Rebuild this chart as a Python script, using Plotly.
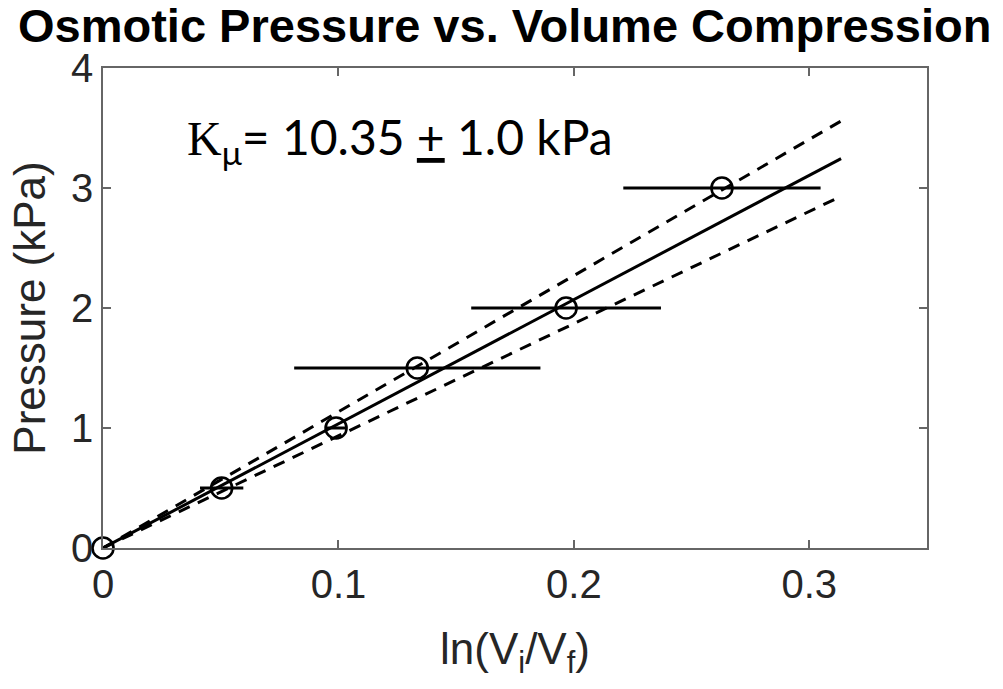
import plotly.graph_objects as go

# Data
ln_ratio = [0.0, 0.0504, 0.0990, 0.1335, 0.1967, 0.2629]
pressure = [0.0, 0.5, 1.0, 1.5, 2.0, 3.0]
ln_err = [0.0, 0.0092, 0.0045, 0.0523, 0.0403, 0.0419]

fit_x = [0.0, 0.3135]
fit_y = [0.0, 3.245]
upper_y = [0.0, 3.558]
lower_y = [0.0, 2.931]

x_ticks = [0, 0.1, 0.2, 0.3]
x_tick_text = ["0", "0.1", "0.2", "0.3"]
y_ticks = [0, 1, 2, 3, 4]
y_tick_text = ["0", "1", "2", "3", "4"]

title_text = "Osmotic Pressure vs. Volume Compression"
x_label = "ln(V<sub>i</sub>/V<sub>f</sub>)"
y_label = "Pressure (kPa)"

fig = go.Figure()

dash = "12px,9px"
fig.add_trace(go.Scatter(x=fit_x, y=upper_y, mode="lines",
                         line=dict(color="black", width=3, dash=dash), showlegend=False))
fig.add_trace(go.Scatter(x=fit_x, y=lower_y, mode="lines",
                         line=dict(color="black", width=3, dash=dash), showlegend=False))
fig.add_trace(go.Scatter(x=fit_x, y=fit_y, mode="lines",
                         line=dict(color="black", width=3), showlegend=False))
fig.add_trace(go.Scatter(
    x=ln_ratio, y=pressure, mode="markers", cliponaxis=False,
    marker=dict(symbol="circle-open", size=21, color="black", line=dict(width=2.6, color="black")),
    error_x=dict(type="data", array=ln_err, visible=True, color="black", thickness=3, width=0),
    showlegend=False))

axis_common = dict(
    showgrid=False, zeroline=False, showline=True, linecolor="#666666", linewidth=1.5,
    mirror="ticks", ticks="inside", ticklen=8, tickwidth=1.5, tickcolor="#666666",
    tickfont=dict(family="Liberation Sans, Arial", size=40, color="#262626"),
)

fig.update_layout(
    width=1003, height=689,
    margin=dict(l=103, r=76, t=68, b=141),
    plot_bgcolor="white", paper_bgcolor="white",
    xaxis=dict(range=[0, 0.35], tickvals=x_ticks, ticktext=x_tick_text,
               title=dict(text=x_label, font=dict(family="Liberation Sans, Arial", size=44, color="#262626"),
                          standoff=28),
               **axis_common),
    yaxis=dict(range=[0, 4], tickvals=y_ticks, ticktext=y_tick_text,
               title=dict(text=y_label, font=dict(family="Liberation Sans, Arial", size=44, color="#262626"),
                          standoff=12),
               **axis_common),
    annotations=[
        dict(text="<b>" + title_text + "</b>", xref="paper", yref="paper", x=0.487, y=1.0,
             xanchor="center", yanchor="bottom", yshift=14, showarrow=False,
             font=dict(family="Liberation Sans, Arial", size=47, color="black")),
        dict(text="<span style='font-family:Liberation Serif'>K</span><sub>μ</sub>= 10.35 <u>+</u> 1.0 kPa",
             xref="x", yref="y", x=0.035, y=3.4, xanchor="left", yanchor="middle", showarrow=False,
             font=dict(family="Lato", size=48, color="black")),
    ],
)

fig.write_html("out.html")
